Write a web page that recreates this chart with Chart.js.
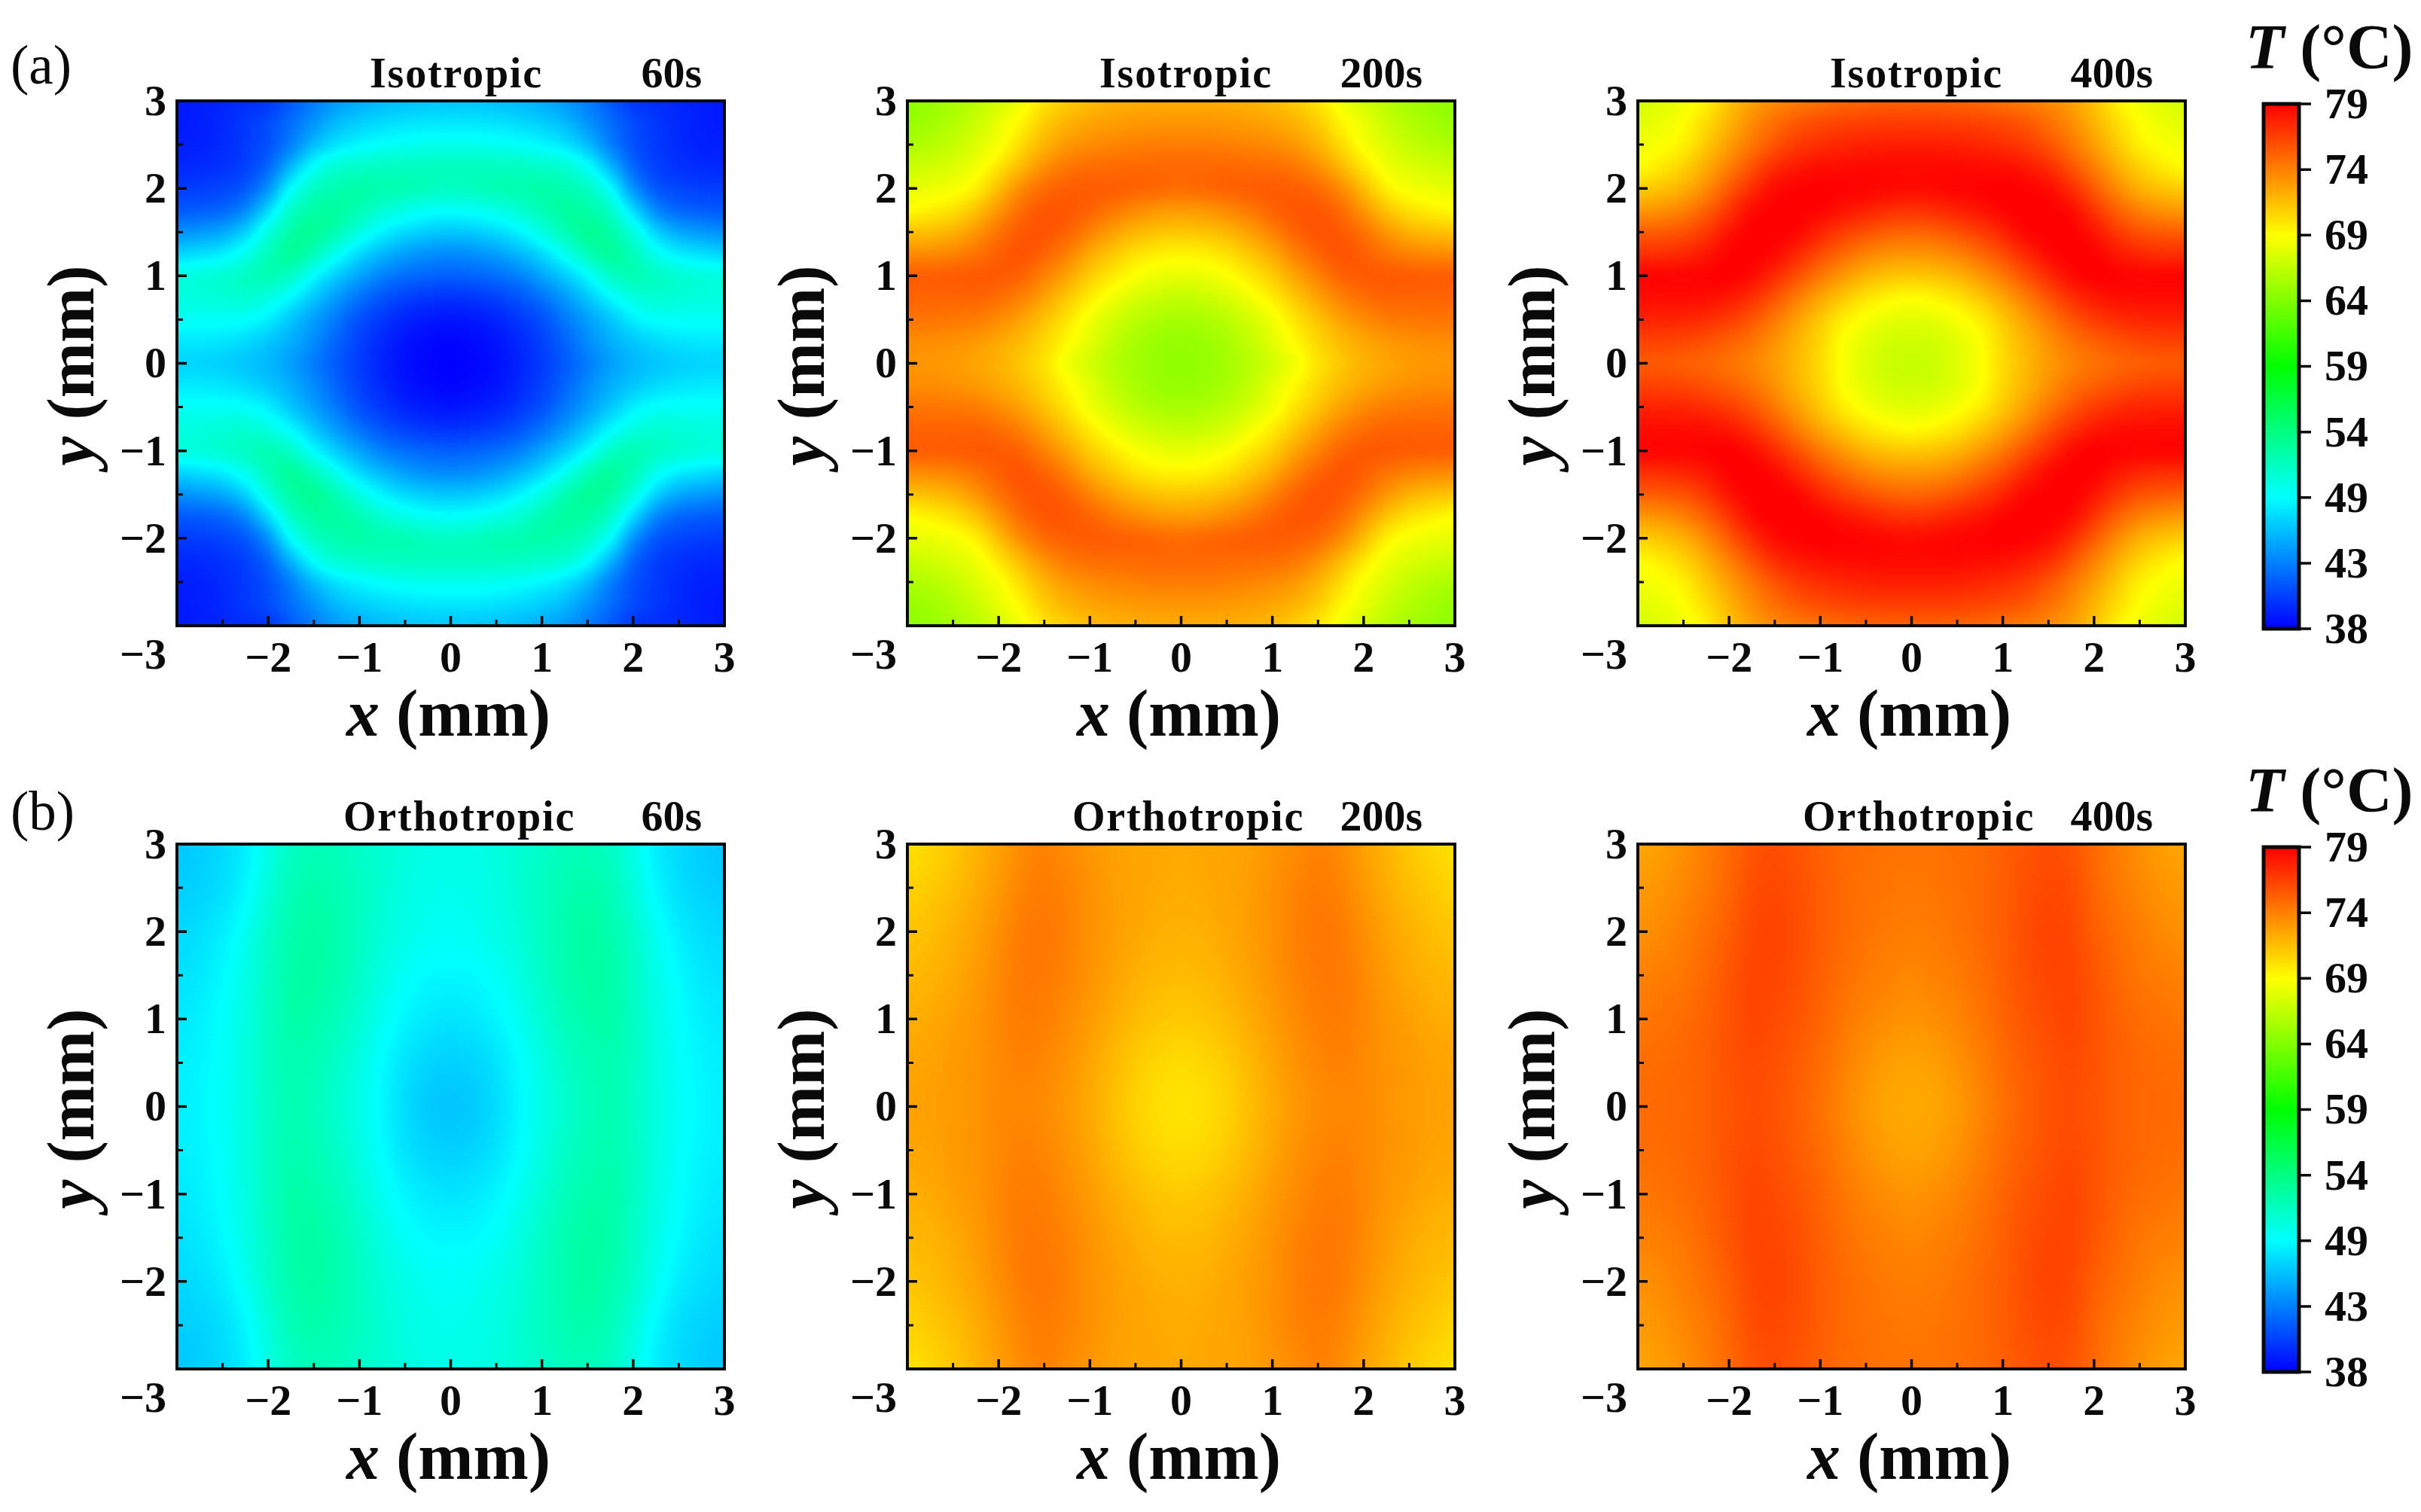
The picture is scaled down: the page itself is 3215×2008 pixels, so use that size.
<!DOCTYPE html>
<html lang="en">
  <head>
    <meta charset="UTF-8" />
    <title>Temperature maps</title>
    <script src="https://cdn.jsdelivr.net/npm/chart.js@4/dist/chart.umd.js"></script>
    <style>
      html, body { margin: 0; background: #fff; }
      #page { position: relative; width: 3215px; height: 2008px; overflow: hidden; background: #fff; }
      canvas { position: absolute; }
    </style>
  </head>
  <body>
    <div id="page"></div>

    <script>
      // temperatures, one quadrant (x >= 0, y >= 0), maps are symmetric
      const xNodes = [0, 0.25, 0.5, 0.75, 1, 1.25, 1.5, 1.75, 2, 2.25, 2.5, 2.75, 3];
      const yNodesIso = [3, 2.75, 2.5, 2.25, 2, 1.75, 1.5, 1.25, 1, 0.75, 0.5, 0.25, 0];
      const yNodesOrtho = [3, 2.5, 2, 1.5, 1, 0.5, 0];

      const iso60 = [
        [46, 46, 45.8, 45.5, 45, 44.2, 43, 41.6, 40.2, 39.8, 39.5, 39.2, 39],
        [47.3, 47.3, 47.1, 46.8, 46.3, 45.5, 44, 42.4, 41, 40.2, 39.6, 39.2, 39],
        [49, 49, 48.8, 48.5, 48, 47.2, 45.6, 43.2, 41.3, 40.3, 39.7, 39.3, 39.2],
        [50.8, 50.8, 50.8, 50.7, 50.4, 50, 48.4, 45.4, 42.2, 40.6, 40, 39.7, 39.6],
        [50.6, 50.8, 51.2, 51.4, 51.7, 51.4, 50.6, 48.2, 44, 41.6, 40.8, 40.5, 40.4],
        [48.4, 48.6, 49.2, 50, 51.2, 52, 51.8, 50.4, 46.8, 43.6, 42.2, 41.8, 41.6],
        [46, 46.2, 46.8, 47.8, 49.4, 51.2, 52.4, 51.8, 49.5, 46.5, 44.8, 44.2, 43.8],
        [43.6, 43.8, 44.4, 45.4, 46.8, 48.8, 51, 52.2, 51, 49, 47.6, 47, 46.6],
        [41.8, 42, 42.4, 43.2, 44.6, 46.2, 48.2, 50.4, 51.2, 50.6, 50, 49.6, 49.4],
        [40, 40.2, 40.6, 41.4, 42.6, 44.2, 46, 48, 49.4, 50, 49.8, 49.6, 49.4],
        [38.8, 39, 39.4, 40.2, 41.2, 42.8, 44.4, 46, 47.6, 48.4, 48.6, 48.6, 48.6],
        [38.2, 38.4, 38.8, 39.6, 40.6, 42, 43.6, 45, 46, 46.8, 47.2, 47.4, 47.4],
        [38, 38.2, 38.6, 39.4, 40.4, 41.6, 43, 44.4, 45.4, 46, 46.4, 46.6, 46.6],
      ];
      const iso200 = [
        [72.2, 72.2, 72.1, 71.9, 71.5, 70.8, 69.8, 68.3, 67, 66, 65.2, 64.6, 64.2],
        [73, 73, 72.9, 72.7, 72.4, 71.8, 70.8, 69.2, 67.9, 66.6, 65.7, 65, 64.6],
        [74, 74, 73.9, 73.7, 73.4, 72.9, 71.8, 70.2, 68.5, 67.4, 66.4, 65.8, 65.4],
        [74.8, 74.8, 74.8, 74.7, 74.6, 74.2, 73.2, 71.6, 69.8, 68.2, 67.4, 66.9, 66.6],
        [74.6, 74.8, 75, 75.2, 75.3, 75.2, 74.7, 73.4, 71.4, 69.4, 68.4, 68, 67.8],
        [72.8, 73, 73.5, 74.2, 75, 75.5, 75.5, 74.7, 73, 71.2, 70, 69.4, 68.9],
        [71, 71.2, 71.7, 72.6, 73.8, 75, 75.6, 75.4, 74.4, 73, 71.9, 71.4, 71.2],
        [69.2, 69.4, 70, 71, 72.2, 73.8, 75, 75.6, 75.2, 74.4, 73.8, 73.5, 73.4],
        [67.8, 68, 68.6, 69.6, 70.8, 72.4, 73.8, 75, 75.4, 75.4, 75.3, 75.2, 75.2],
        [66.3, 66.6, 67.2, 68.2, 69.5, 71, 72.5, 73.8, 74.6, 75, 75, 75, 75],
        [65.2, 65.4, 66, 67, 68.2, 69.8, 71.2, 72.5, 73.4, 74, 74.2, 74.3, 74.3],
        [64.5, 64.7, 65.3, 66.3, 67.6, 69, 70.4, 71.5, 72.3, 72.9, 73.2, 73.4, 73.4],
        [64.3, 64.5, 65.1, 65.9, 67, 68.3, 69.9, 71, 71.9, 72.4, 72.8, 73, 73],
      ];
      const iso400 = [
        [75.2, 75.2, 75.1, 74.9, 74.5, 74.1, 73.5, 72.6, 71.2, 69.4, 68.2, 67.5, 67],
        [76.6, 76.6, 76.5, 76.3, 76, 75.5, 74.6, 73.4, 71.8, 70.2, 68.8, 68, 67.6],
        [77.8, 77.8, 77.7, 77.5, 77.2, 76.7, 75.7, 74.3, 72.7, 71, 69.4, 68.6, 68.2],
        [78.6, 78.6, 78.6, 78.5, 78.4, 78, 77.2, 75.7, 73.9, 72.1, 70.6, 69.6, 68.9],
        [78.5, 78.6, 78.8, 78.9, 79, 78.9, 78.5, 77.2, 75.4, 73.5, 72, 71.2, 70.8],
        [77, 77.2, 77.7, 78.2, 78.8, 79, 79, 78.5, 76.9, 75.2, 73.9, 73.2, 72.9],
        [75, 75.2, 75.8, 76.6, 77.6, 78.7, 79, 79, 78.2, 76.8, 75.8, 75.4, 75.2],
        [73, 73.2, 73.8, 74.8, 76, 77.4, 78.6, 79, 78.9, 78.1, 77.5, 77.2, 77.2],
        [71, 71.2, 71.8, 72.9, 74.2, 75.8, 77.3, 78.5, 79, 78.9, 78.8, 78.8, 78.8],
        [68.9, 69.2, 69.9, 71, 72.4, 74, 75.7, 77.1, 78, 78.4, 78.5, 78.5, 78.5],
        [67.6, 67.8, 68.5, 69.5, 71, 72.6, 74.2, 75.6, 76.6, 77.2, 77.5, 77.6, 77.6],
        [66.8, 67, 67.7, 68.7, 70.4, 71.8, 73.2, 74.4, 75.2, 75.8, 76.2, 76.4, 76.4],
        [66.5, 66.7, 67.5, 68.6, 70.2, 71.6, 72.8, 73.8, 74.5, 75, 75.3, 75.5, 75.5],
      ];
      const ortho60 = [
        [49.2, 49.3, 49.6, 50, 50.5, 51, 51.1, 50.6, 49.3, 47.6, 46.8, 46.3, 46],
        [49, 49.1, 49.4, 50, 50.7, 51.3, 51.6, 51.1, 49.7, 48, 47, 46.5, 46.3],
        [48.6, 48.8, 49.2, 49.8, 50.7, 51.5, 51.9, 51.5, 50.4, 48.8, 47.6, 47, 46.7],
        [48, 48.1, 48.6, 49.4, 50.5, 51.4, 51.9, 51.7, 50.6, 49.2, 48.1, 47.4, 47.1],
        [47.2, 47.4, 47.9, 48.8, 50, 51, 51.6, 51.7, 50.7, 49.4, 48.4, 47.7, 47.4],
        [46.4, 46.6, 47.2, 48.2, 49.4, 50.5, 51.2, 51.4, 50.7, 49.5, 48.5, 47.9, 47.6],
        [46, 46.2, 46.9, 48, 49.2, 50.2, 51, 51.3, 50.6, 49.5, 48.6, 48, 47.7],
      ];
      const ortho200 = [
        [72.2, 72.3, 72.4, 72.6, 73, 73.4, 73.8, 73.4, 72.6, 71.8, 71, 70.4, 70],
        [72.1, 72.2, 72.4, 72.7, 73.2, 73.7, 74, 73.7, 72.9, 72.1, 71.4, 70.9, 70.5],
        [71.9, 72, 72.3, 72.7, 73.2, 73.8, 74.2, 74, 73.3, 72.5, 71.9, 71.4, 71.1],
        [71.5, 71.6, 72, 72.5, 73.1, 73.7, 74.1, 74.1, 73.5, 72.8, 72.2, 71.8, 71.6],
        [70.9, 71.1, 71.5, 72.1, 72.8, 73.4, 73.9, 74, 73.6, 73, 72.6, 72.2, 72],
        [70.2, 70.4, 70.9, 71.6, 72.4, 73.1, 73.6, 73.8, 73.5, 73.1, 72.8, 72.5, 72.4],
        [69.9, 70.1, 70.6, 71.4, 72.2, 72.9, 73.4, 73.6, 73.5, 73.1, 72.8, 72.6, 72.5],
      ];
      const ortho400 = [
        [74.4, 74.4, 74.6, 74.8, 75.2, 75.6, 75.9, 75.6, 74.8, 74, 73.3, 72.7, 72.4],
        [74.2, 74.3, 74.5, 74.8, 75.3, 75.8, 76.1, 75.9, 75, 74.2, 73.6, 73.1, 72.8],
        [74, 74.1, 74.4, 74.8, 75.3, 75.9, 76.3, 76.1, 75.3, 74.6, 74, 73.5, 73.2],
        [73.6, 73.8, 74.1, 74.6, 75.2, 75.8, 76.2, 76.2, 75.6, 74.9, 74.3, 74, 73.8],
        [73.1, 73.3, 73.7, 74.3, 75, 75.6, 76, 76.2, 75.7, 75.1, 74.7, 74.4, 74.2],
        [72.5, 72.7, 73.2, 73.9, 74.7, 75.3, 75.8, 76, 75.7, 75.2, 74.9, 74.7, 74.6],
        [72.2, 72.4, 72.9, 73.7, 74.5, 75.2, 75.7, 75.9, 75.6, 75.2, 74.9, 74.8, 74.7],
      ];

      const xTickLabels = ["", "−2", "−1", "0", "1", "2", "3"];
      const yTickLabels = [["", "−3"], "−2", "−1", "0", "1", "2", "3"];
      const majorTicks = [-3, -2, -1, 0, 1, 2, 3];
      const minorTicks = [-2.5, -1.5, -0.5, 0.5, 1.5, 2.5];

      const barTickValues = [38, 43.125, 48.25, 53.375, 58.5, 63.625, 68.75, 73.875, 79];
      const barTickLabels = ["38", "43", "49", "54", "59", "64", "69", "74", "79"];
      const barColors = [
        [0, 0, 255], [0, 128, 255], [0, 255, 255], [0, 255, 128], [0, 255, 0],
        [128, 255, 0], [255, 255, 0], [255, 128, 0], [255, 0, 0],
      ];

      const SERIF = '"Liberation Serif", "Times New Roman", serif';
      const TICK_FONT = { family: SERIF, size: 58, weight: "bold", lineHeight: 1.3 };

      function tempColor(t) {
        if (t <= barTickValues[0]) return barColors[0];
        for (let i = 1; i < barTickValues.length; i++) {
          if (t <= barTickValues[i]) {
            const f = (t - barTickValues[i - 1]) / (barTickValues[i] - barTickValues[i - 1]);
            const a = barColors[i - 1];
            const b = barColors[i];
            return [a[0] + (b[0] - a[0]) * f, a[1] + (b[1] - a[1]) * f, a[2] + (b[2] - a[2]) * f];
          }
        }
        return barColors[barColors.length - 1];
      }

      // mirror a quadrant into the whole square, bottom row first
      function fullGrid(table, yNodes) {
        const xs = xNodes.slice(1).reverse().map((v) => -v).concat(xNodes);
        const ys = yNodes.map((v) => -v).concat(yNodes.slice(0, -1).reverse());
        const points = [];
        ys.forEach((y) => {
          xs.forEach((x) => {
            const row = table[yNodes.indexOf(Math.abs(y))];
            points.push({ x: x, y: y, v: row[xNodes.indexOf(Math.abs(x))] });
          });
        });
        return points;
      }

      function cubic(a, b, c, d, t) {
        return b + 0.5 * t * (c - a + t * (2 * a - 5 * b + 4 * c - d + t * (3 * (b - c) + d - a)));
      }

      const heatmapPlugin = {
        id: "heatmap",
        beforeDatasetsDraw(chart) {
          const points = chart.data.datasets[0].data;
          const xs = [...new Set(points.map((p) => p.x))];
          const ys = [...new Set(points.map((p) => p.y))];
          const vals = points.map((p) => p.v);
          const nx = xs.length;
          const ny = ys.length;
          const dx = xs[1] - xs[0];
          const dy = ys[1] - ys[0];
          const area = chart.chartArea;
          const w = Math.round(area.right - area.left);
          const h = Math.round(area.bottom - area.top);
          const off = document.createElement("canvas");
          off.width = w;
          off.height = h;
          const octx = off.getContext("2d");
          const img = octx.createImageData(w, h);
          const at = (i, j) =>
            vals[Math.max(0, Math.min(ny - 1, j)) * nx + Math.max(0, Math.min(nx - 1, i))];
          for (let py = 0; py < h; py++) {
            const gy = (chart.scales.y.getValueForPixel(area.top + py + 0.5) - ys[0]) / dy;
            const j = Math.floor(gy);
            const ty = gy - j;
            for (let px = 0; px < w; px++) {
              const gx = (chart.scales.x.getValueForPixel(area.left + px + 0.5) - xs[0]) / dx;
              const i = Math.floor(gx);
              const tx = gx - i;
              const r0 = cubic(at(i - 1, j - 1), at(i, j - 1), at(i + 1, j - 1), at(i + 2, j - 1), tx);
              const r1 = cubic(at(i - 1, j), at(i, j), at(i + 1, j), at(i + 2, j), tx);
              const r2 = cubic(at(i - 1, j + 1), at(i, j + 1), at(i + 1, j + 1), at(i + 2, j + 1), tx);
              const r3 = cubic(at(i - 1, j + 2), at(i, j + 2), at(i + 1, j + 2), at(i + 2, j + 2), tx);
              const c = tempColor(cubic(r0, r1, r2, r3, ty));
              const k = (py * w + px) * 4;
              img.data[k] = c[0];
              img.data[k + 1] = c[1];
              img.data[k + 2] = c[2];
              img.data[k + 3] = 255;
            }
          }
          octx.putImageData(img, 0, 0);
          chart.ctx.drawImage(off, area.left, area.top);
        },
      };

      function drawRuns(ctx, runs, x, y, center) {
        let total = 0;
        runs.forEach((r) => {
          ctx.font = r[1];
          total += ctx.measureText(r[0]).width;
        });
        let cx = center ? x - total / 2 : x;
        runs.forEach((r) => {
          ctx.font = r[1];
          ctx.fillText(r[0], cx, y);
          cx += ctx.measureText(r[0]).width;
        });
      }

      function axisRuns(letter) {
        return [
          [letter, "italic bold 88px " + SERIF],
          [" (mm)", "bold 88px " + SERIF],
        ];
      }

      const framePlugin = {
        id: "frame",
        afterDatasetsDraw(chart, args, opts) {
          const ctx = chart.ctx;
          const a = chart.chartArea;
          ctx.save();
          ctx.strokeStyle = "#0a0a0a";
          ctx.lineCap = "butt";
          const tick = (v, len, width) => {
            ctx.lineWidth = width;
            ctx.beginPath();
            const px = chart.scales.x.getPixelForValue(v);
            ctx.moveTo(px, a.bottom);
            ctx.lineTo(px, a.bottom - len);
            const py = chart.scales.y.getPixelForValue(v);
            ctx.moveTo(a.left, py);
            ctx.lineTo(a.left + len, py);
            ctx.stroke();
          };
          majorTicks.forEach((v) => tick(v, 13, 3.5));
          minorTicks.forEach((v) => tick(v, 8, 3));
          ctx.lineWidth = 4;
          ctx.strokeRect(a.left, a.top, a.right - a.left, a.bottom - a.top);

          // texts round the panel
          ctx.fillStyle = "#0a0a0a";
          ctx.textBaseline = "alphabetic";
          ctx.letterSpacing = "1.8px";
          ctx.font = "bold 56px " + SERIF;
          ctx.textAlign = "left";
          ctx.fillText(opts.title, a.left + opts.titleLeft, a.top - 18);
          ctx.letterSpacing = "0px";
          ctx.font = "bold 58px " + SERIF;
          ctx.textAlign = "right";
          ctx.fillText(opts.time, a.left + opts.timeRight, a.top - 18);
          ctx.textAlign = "left";
          drawRuns(ctx, axisRuns("x"), (a.left + a.right) / 2 - 3, a.bottom + 146, true);
          ctx.save();
          ctx.translate(a.left - 111, (a.top + a.bottom) / 2 + 3);
          ctx.rotate(-Math.PI / 2);
          drawRuns(ctx, axisRuns("y"), 0, 0, true);
          ctx.restore();
          if (opts.panelLabel) {
            ctx.font = "73px " + SERIF;
            ctx.fillText(opts.panelLabel, 14, opts.panelLabelY);
          }
          ctx.restore();
        },
      };

      const barFramePlugin = {
        id: "barFrame",
        afterDatasetsDraw(chart) {
          const ctx = chart.ctx;
          const a = chart.chartArea;
          ctx.save();
          ctx.strokeStyle = "#0a0a0a";
          ctx.lineWidth = 3.5;
          ctx.beginPath();
          barTickValues.forEach((v) => {
            const py = chart.scales.y.getPixelForValue(v);
            ctx.moveTo(a.right, py);
            ctx.lineTo(a.right + 16, py);
          });
          ctx.stroke();
          ctx.lineWidth = 5;
          ctx.strokeRect(a.left, a.top, a.right - a.left, a.bottom - a.top);
          ctx.fillStyle = "#0a0a0a";
          ctx.textBaseline = "alphabetic";
          drawRuns(ctx, [
            ["T", "italic bold 84px " + SERIF],
            [" (°C)", "bold 84px " + SERIF],
          ], -3, 91);
          ctx.restore();
        },
      };

      function addCanvas(left, top, w, h) {
        const c = document.createElement("canvas");
        c.width = w;
        c.height = h;
        c.style.left = left + "px";
        c.style.top = top + "px";
        document.getElementById("page").appendChild(c);
        return c;
      }

      function makePanel(p) {
        const W = 1010;
        const H = 1000;
        new Chart(addCanvas(p.left - 235, p.top - 134, W, H), {
          type: "scatter",
          data: {
            datasets: [{ data: fullGrid(p.table, p.yNodes), pointRadius: 0, pointHoverRadius: 0 }],
          },
          plugins: [heatmapPlugin, framePlugin],
          options: {
            responsive: false,
            animation: false,
            events: [],
            layout: { autoPadding: false, padding: { top: 134, right: W - 962 } },
            plugins: {
              legend: { display: false },
              tooltip: { enabled: false },
              frame: {
                title: p.title,
                time: p.time,
                titleLeft: p.titleLeft,
                timeRight: p.timeRight,
                panelLabel: p.panelLabel,
                panelLabelY: p.panelLabelY,
              },
            },
            scales: {
              x: {
                type: "linear",
                min: -3,
                max: 3,
                afterFit: (s) => { s.height = H - 134 - 697; },
                grid: { display: false, drawTicks: false },
                border: { display: false },
                ticks: {
                  stepSize: 1,
                  autoSkip: false,
                  maxRotation: 0,
                  minRotation: 0,
                  padding: 8,
                  color: "#0a0a0a",
                  font: TICK_FONT,
                  callback: (v, i) => xTickLabels[i],
                },
              },
              y: {
                type: "linear",
                min: -3,
                max: 3,
                afterFit: (s) => { s.width = 235; },
                grid: { display: false, drawTicks: false },
                border: { display: false },
                ticks: {
                  stepSize: 1,
                  autoSkip: false,
                  padding: 14,
                  labelOffset: 4,
                  color: "#0a0a0a",
                  font: TICK_FONT,
                  callback: (v, i) => yTickLabels[i],
                },
              },
            },
          },
        });
      }

      function makeColorBar(top) {
        const W = 230;
        const H = 1000;
        new Chart(addCanvas(2985, top, W, H), {
          type: "bar",
          data: {
            labels: ["T"],
            datasets: [
              {
                data: [[38, 79]],
                barPercentage: 1,
                categoryPercentage: 1,
                backgroundColor: (ctx) => {
                  const chart = ctx.chart;
                  if (!chart.chartArea) return "#00f";
                  const y = chart.scales.y;
                  const g = chart.ctx.createLinearGradient(0, y.getPixelForValue(38), 0, y.getPixelForValue(79));
                  barTickValues.forEach((v, i) => {
                    g.addColorStop((v - 38) / 41, "rgb(" + barColors[i].join(",") + ")");
                  });
                  return g;
                },
              },
            ],
          },
          plugins: [barFramePlugin],
          options: {
            responsive: false,
            animation: false,
            events: [],
            layout: { autoPadding: false, padding: { top: 138, left: 21, bottom: H - 835 } },
            plugins: { legend: { display: false }, tooltip: { enabled: false } },
            scales: {
              x: { display: false },
              y: {
                position: "right",
                min: 38,
                max: 79,
                afterFit: (s) => { s.width = W - 68; },
                afterBuildTicks: (s) => { s.ticks = barTickValues.map((v) => ({ value: v })); },
                grid: { display: false, drawTicks: false },
                border: { display: false },
                ticks: {
                  autoSkip: false,
                  padding: 34,
                  labelOffset: 4,
                  color: "#0a0a0a",
                  font: { family: SERIF, size: 58, weight: "bold" },
                  callback: (v, i) => barTickLabels[i],
                },
              },
            },
          },
        });
      }

      const columnLefts = [235, 1205, 2175];
      const rowTops = [134, 1121];

      makePanel({ left: columnLefts[0], top: rowTops[0], table: iso60, yNodes: yNodesIso, title: "Isotropic", time: "60s", titleLeft: 256, timeRight: 697, panelLabel: "(a)", panelLabelY: 111 });
      makePanel({ left: columnLefts[1], top: rowTops[0], table: iso200, yNodes: yNodesIso, title: "Isotropic", time: "200s", titleLeft: 255, timeRight: 684 });
      makePanel({ left: columnLefts[2], top: rowTops[0], table: iso400, yNodes: yNodesIso, title: "Isotropic", time: "400s", titleLeft: 255, timeRight: 684 });
      makePanel({ left: columnLefts[0], top: rowTops[1], table: ortho60, yNodes: yNodesOrtho, title: "Orthotropic", time: "60s", titleLeft: 221, timeRight: 697, panelLabel: "(b)", panelLabelY: 115 });
      makePanel({ left: columnLefts[1], top: rowTops[1], table: ortho200, yNodes: yNodesOrtho, title: "Orthotropic", time: "200s", titleLeft: 219, timeRight: 684 });
      makePanel({ left: columnLefts[2], top: rowTops[1], table: ortho400, yNodes: yNodesOrtho, title: "Orthotropic", time: "400s", titleLeft: 219, timeRight: 684 });
      makeColorBar(0);
      makeColorBar(rowTops[1] - rowTops[0]);
    </script>
  </body>
</html>
